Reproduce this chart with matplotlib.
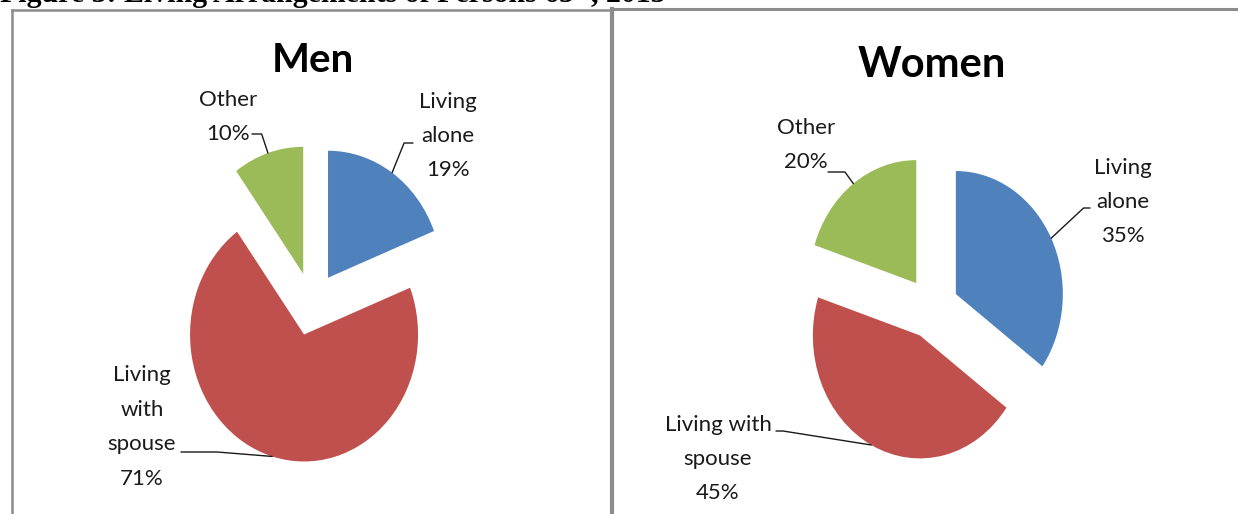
import matplotlib
matplotlib.use("Agg")
import matplotlib.pyplot as plt
from matplotlib.lines import Line2D
import numpy as np

# ---------- Data ----------
categories = ["Living alone", "Living with spouse", "Other"]
men_values = [19, 71, 10]
women_values = [35, 45, 20]
colors = ["#4F81BD", "#C0504D", "#9BBB59"]

men_labels = ["Living\nalone\n19%", "Living\nwith\nspouse\n71%", "Other\n10%"]
women_labels = ["Living\nalone\n35%", "Living with\nspouse\n45%", "Other\n20%"]

W, H = 1238, 514
fig = plt.figure(figsize=(W / 100, H / 100), dpi=100)
fig.patch.set_facecolor("white")


def fx(x):
    return x / W


def fy(y):
    return 1 - y / H


# ---------- Panel borders ----------
border = "#8c8c8c"
fig.add_artist(Line2D([fx(12), fx(12)], [fy(9.5), fy(520)], color=border, lw=1.8,
                      transform=fig.transFigure))
fig.add_artist(Line2D([fx(12), fx(612)], [fy(9.5), fy(9.5)], color=border, lw=1.8,
                      transform=fig.transFigure))
fig.add_artist(Line2D([fx(612), fx(612)], [fy(9), fy(520)], color=border, lw=3,
                      transform=fig.transFigure))
fig.add_artist(Line2D([fx(612), fx(1240)], [fy(9), fy(9)], color=border, lw=2.2,
                      transform=fig.transFigure))

# ---------- Caption (cut off at top, as in the source) ----------
fig.text(fx(0), fy(2.5), "Figure 3: Living Arrangements of Persons 65+, 2013",
         family="Liberation Serif", weight="bold", fontsize=21.5,
         ha="left", va="baseline")

S = 1.5  # half-span of each pie axes in data units


def pie_panel(values, cx, cy, rx, ry, title, tx, ty, tsize, labels, label_pos, stubs):
    w, h = 2 * S * rx, 2 * S * ry
    ax = fig.add_axes([fx(cx - w / 2), fy(cy + h / 2), w / W, h / H])
    wedges, _ = ax.pie(values, colors=colors, startangle=90, counterclock=False,
                       explode=[0.25] * len(values), radius=1,
                       wedgeprops=dict(linewidth=0))
    ax.set_aspect("auto")
    ax.set_xlim(-S, S)
    ax.set_ylim(-S, S)
    ax.axis("off")

    fig.text(fx(tx), fy(ty), title, family="Lato", weight="bold", fontsize=tsize,
             ha="center", va="center")

    for wdg, lab, (lx, ly), (sx, sy, angB) in zip(wedges, labels, label_pos, stubs):
        mid = np.deg2rad((wdg.theta1 + wdg.theta2) / 2)
        px, py = wdg.center
        bx = px + wdg.r * np.cos(mid)
        by = py + wdg.r * np.sin(mid)
        fig.text(fx(lx), fy(ly), lab, family="Lato", fontsize=16,
                 ha="center", va="center", linespacing=1.9, color="#1a1a1a")
        ax.annotate("", xy=(bx, by), xycoords="data",
                    xytext=(sx, H - sy), textcoords="figure pixels",
                    arrowprops=dict(arrowstyle="-", color="#1a1a1a", lw=1,
                                    shrinkA=0, shrinkB=0,
                                    connectionstyle=f"angle,angleA=0,angleB={angB},rad=0"),
                    annotation_clip=False)
    return ax


# label centers (px from top-left) and leader stub starts: (x, y, angle)
pie_panel(men_values, 312, 304, 114, 127, "Men", 313, 61, 29, men_labels,
          [(448, 136), (142, 427), (228, 117)],
          [(413, 143, 68), (181, 452, -4.6), (252, 134, -71.6)])

pie_panel(women_values, 932, 308, 107, 123, "Women", 932, 65, 30, women_labels,
          [(1123, 202), (718, 459), (806, 145)],
          [(1090, 208, 43), (776, 431, -9), (828, 172, -54)])

fig.savefig("out.png", dpi=100, facecolor="white")
